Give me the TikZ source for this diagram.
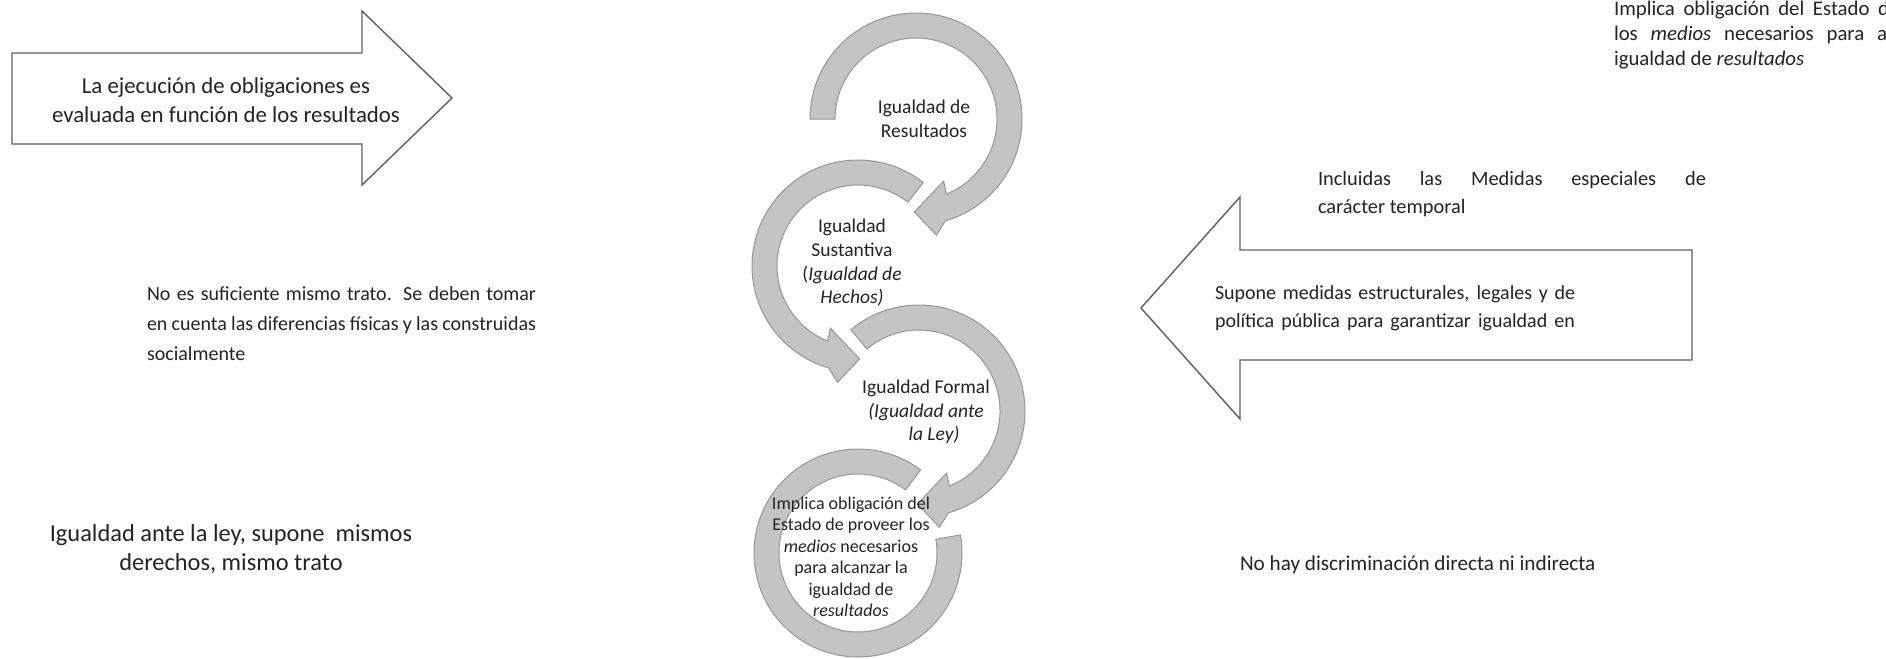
\documentclass[tikz,border=0pt]{standalone}
\usepackage{fontspec}
\setmainfont{Carlito}
\definecolor{arrgray}{RGB}{196,196,196}
\definecolor{arredge}{RGB}{150,150,150}
\definecolor{outl}{RGB}{95,95,95}
\definecolor{ink}{RGB}{35,35,35}
\tikzset{
  bigarrow/.style={draw=outl, line width=0.7pt, fill=white, line join=miter},
  circarrow/.style={fill=arrgray, draw=arredge, line width=0.5pt},
  lw/.style={inner sep=0pt, outer sep=0pt, anchor=base west, text=ink},
  lc/.style={inner sep=0pt, outer sep=0pt, anchor=base, text=ink},
  fA/.style={font=\fontsize{11.4}{13}\selectfont},
  fB/.style={font=\fontsize{10}{12}\selectfont},
  fC/.style={font=\fontsize{12.2}{14}\selectfont},
  fD/.style={font=\fontsize{10.2}{12}\selectfont},
  fS/.style={font=\fontsize{10}{12}\selectfont},
  fE/.style={font=\fontsize{10.6}{12}\selectfont},
  fF/.style={font=\fontsize{10.4}{12}\selectfont},
  fG/.style={font=\fontsize{9.75}{12}\selectfont},
  fH/.style={font=\fontsize{9}{11}\selectfont},
}
\begin{document}
\begin{tikzpicture}[x=0.5pt,y=-0.5pt]
\useasboundingbox (0,0) rectangle (1886,659);
\clip (0,0) rectangle (1886,659);

% big block arrows
\draw[bigarrow] (12,53) -- (362,53) -- (362,11) -- (452,98) -- (362,185) -- (362,144) -- (12,144) -- cycle;
\draw[bigarrow] (1692,250) -- (1240,250) -- (1240,197) -- (1141,308) -- (1240,419) -- (1240,360) -- (1692,360) -- cycle;

% circular arrows
\begin{scope}[shift={(916,119)},yscale=-1]
\filldraw[circarrow] (180:106) arc[start angle=180,end angle=-74,radius=106] -- (-80:118) -- (-91:93) -- (-66:68) -- (-68:81) arc[start angle=-68,end angle=180,radius=81] -- cycle;
\end{scope}
\begin{scope}[shift={(858,266)},yscale=-1]
\filldraw[circarrow] (52:106) arc[start angle=52,end angle=254,radius=106] -- (260:118) -- (271:93) -- (246:68) -- (248:81) arc[start angle=248,end angle=52,radius=81] -- cycle;
\end{scope}
\begin{scope}[shift={(919,411)},yscale=-1]
\filldraw[circarrow] (130:106) arc[start angle=130,end angle=-74,radius=106] -- (-80:118) -- (-91:93) -- (-66:68) -- (-68:81) arc[start angle=-68,end angle=130,radius=81] -- cycle;
\end{scope}
\begin{scope}[shift={(858,553)},yscale=-1]
\filldraw[circarrow] (53:104) arc[start angle=53,end angle=370,radius=104] -- (370:79) arc[start angle=370,end angle=53,radius=79] -- cycle;
\end{scope}

% texts in left arrow
\node[lc,fA] (a1) at (226,93) {La ejecución de obligaciones es};
\node[lc,fA] (a2) at (226,122) {evaluada en función de los resultados};

% left texts
\node[lw,fB] (b1) at (147,300) {\makebox[194.5pt][s]{No es suficiente mismo trato. Se deben tomar}};
\node[lw,fB] (b2) at (147,330) {\makebox[194.5pt][s]{en cuenta las diferencias físicas y las construidas}};
\node[lw,fB] (b3) at (147,360) {socialmente};

\node[lc,fC] (c1) at (231,541) {Igualdad ante la ley, supone\ \ mismos};
\node[lc,fC] (c2) at (231,570) {derechos, mismo trato};

% right texts
\node[lw,fF] (f1) at (1614,15) {\makebox[180pt][s]{Implica obligación del Estado de proveer}};
\node[lw,fF] (f2) at (1614,40) {\makebox[180pt][s]{los \textit{medios} necesarios para alcanzar la}};
\node[lw,fF] (f3) at (1614,65) {igualdad de \textit{resultados}};

\node[lw,fD] (d1) at (1318,185) {\makebox[194pt][s]{Incluidas las Medidas especiales de}};
\node[lw,fD] (d2) at (1318,213) {carácter temporal};

\node[lw,fS] (d3) at (1215,299) {\makebox[180pt][s]{Supone medidas estructurales, legales y de}};
\node[lw,fS] (d4) at (1215,327) {\makebox[180pt][s]{política pública para garantizar igualdad en}};

\node[lw,fE] (e1) at (1240,570) {No hay discriminación directa ni indirecta};

% circle texts
\node[lc,fG] (g1) at (924,113) {Igualdad de};
\node[lc,fG] (g2) at (924,137) {Resultados};

\node[lc,fG] (h1) at (852,232) {Igualdad};
\node[lc,fG] (h2) at (852,256) {Sustantiva};
\node[lc,fG] (h3) at (852,280) {(\textit{Igualdad de}};
\node[lc,fG] (h4) at (852,303) {\textit{Hechos)}};

\node[lc,fG] (i1) at (926,393) {Igualdad Formal};
\node[lc,fG] (i2) at (926,417) {\textit{(Igualdad ante}};
\node[lc,fG] (i3) at (934,440) {\textit{la Ley)}};

\node[lc,fH] (j1) at (851,509) {Implica obligación del};
\node[lc,fH] (j2) at (851,530.5) {Estado de proveer los};
\node[lc,fH] (j3) at (851,552) {\textit{medios} necesarios};
\node[lc,fH] (j4) at (851,573.5) {para alcanzar la};
\node[lc,fH] (j5) at (851,595) {igualdad de};
\node[lc,fH] (j6) at (851,616.5) {\textit{resultados}};
\end{tikzpicture}
\end{document}
